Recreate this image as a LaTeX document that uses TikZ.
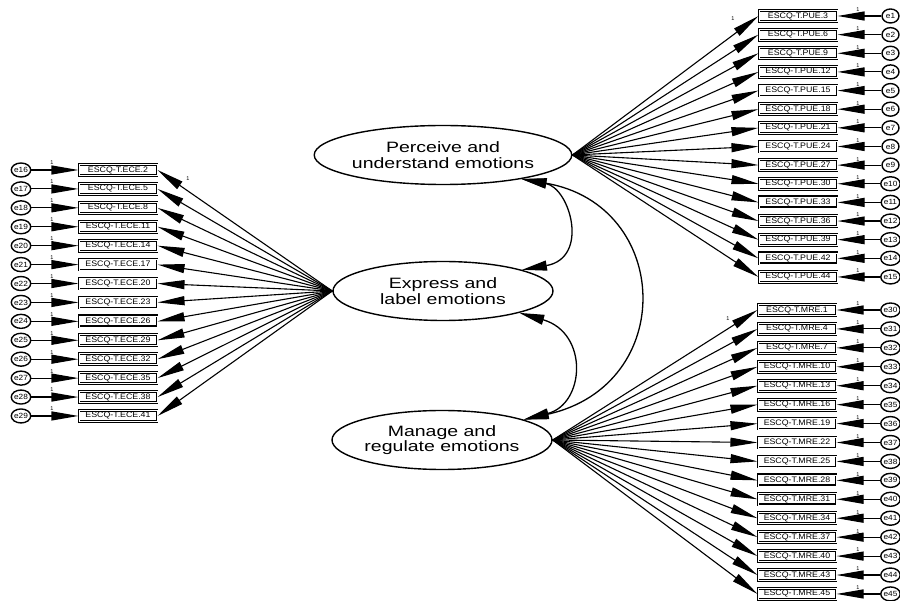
\documentclass[tikz,border=0pt]{standalone}
\usepackage{fontspec}
\setmainfont{Liberation Sans}
\newfontfamily\latfont[FakeStretch=1.3]{Liberation Sans}
\newfontfamily\obsfont[FakeStretch=1.1]{Liberation Sans}
\usetikzlibrary{positioning,shapes.geometric,arrows.meta}

\begin{document}
\begin{tikzpicture}[x=1pt, y=-1pt,
    latent/.style={ellipse, draw, line width=1.4pt, minimum width=220pt, minimum height=59pt, inner sep=0pt, align=center, font=\latfont\fontsize{15}{15.5}\selectfont},
    obsbox/.style={rectangle, draw, double, double distance=0.6pt, line width=1.1pt, minimum width=78pt, minimum height=11pt, inner sep=0pt, font=\obsfont\fontsize{8}{8}\selectfont},
    errnode/.style={ellipse, draw, line width=1.4pt, minimum width=17pt, minimum height=14pt, inner sep=0pt, font=\obsfont\fontsize{7.5}{7.5}\selectfont},
    path/.style={-{Triangle[length=27pt,width=9pt]}, line width=1.1pt},
    cov/.style={{Triangle[length=25pt,width=10pt]}-{Triangle[length=25pt,width=10pt]}, line width=1.3pt},
    one/.style={font=\fontsize{5.5}{5.5}\selectfont, inner sep=0pt}]
    \useasboundingbox (0,0) rectangle (900,601);
    \clip (0,0) rectangle (900,601);

    % Latent factors
    \node[latent] (perc) at (443,155) {Perceive and\\understand emotions};
    \node[latent] (expr) at (443,291) {Express and\\label emotions};
    \node[latent] (man) at (442,440) {Manage and\\regulate emotions};

    % Perceive indicators
    \foreach \n [count=\i] in {3,6,9,12,15,18,21,24,27,30,33,36,39,42,44} {
        \pgfmathsetmacro\yy{16+18.64*(\i-1)}
        \node[obsbox] (pue\n) at (798,\yy) {ESCQ-T.PUE.\n};
        \node[errnode] (e\i) at (890.5,\yy) {e\i};
        \draw[path] (e\i) -- (pue\n.east);
        \node[one] (ue\i) at (858,\yy-6) {1};
        \draw[path] (perc.east) -- (pue\n.west);
    }

    % Express indicators
    \foreach \n [count=\i] in {2,5,8,11,14,17,20,23,26,29,32,35,38,41} {
        \pgfmathsetmacro\yy{170+18.92*(\i-1)}
        \pgfmathtruncatemacro\en{\i+15}
        \node[obsbox] (ece\n) at (118,\yy) {ESCQ-T.ECE.\n};
        \node[errnode] (e\en) at (21,\yy) {e\en};
        \draw[path] (e\en) -- (ece\n.west);
        \node[one] (ue\en) at (52,\yy-7) {1};
        \draw[path] (expr.west) -- (ece\n.east);
    }

    % Manage indicators
    \foreach \n [count=\i] in {1,4,7,10,13,16,19,22,25,28,31,34,37,40,43,45} {
        \pgfmathsetmacro\yy{310+18.93*(\i-1)}
        \pgfmathtruncatemacro\en{\i+29}
        \node[obsbox] (mre\n) at (797,\yy) {ESCQ-T.MRE.\n};
        \node[errnode] (e\en) at (890.5,\yy) {e\en};
        \draw[path] (e\en) -- (mre\n.east);
        \node[one] (ue\en) at (858,\yy-6) {1};
        \draw[path] (man.east) -- (mre\n.west);
    }

    % Fixed loadings
    \node[one] (fixp) at (733,19) {1};
    \node[one] (fixe) at (188,179) {1};
    \node[one] (fixm) at (728,319) {1};

    % Covariances
    \draw[cov] (perc.-17) .. controls (570,188) and (590,258) .. (expr.15);
    \draw[cov] (perc.-17) .. controls (672,205) and (678,385) .. (man.14);
    \draw[cov] (expr.-16) .. controls (589,333) and (585,404) .. (man.14);
\end{tikzpicture}
\end{document}
